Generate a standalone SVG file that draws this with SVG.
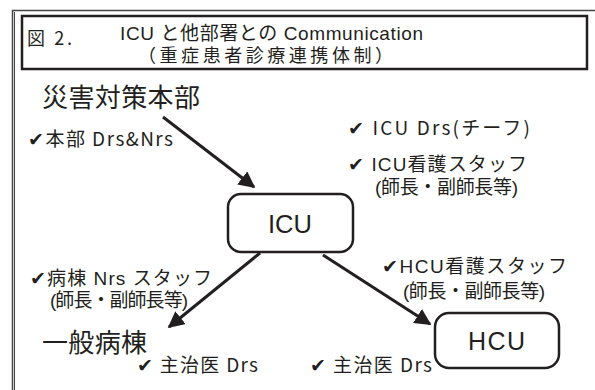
<svg xmlns="http://www.w3.org/2000/svg" width="595" height="390" viewBox="0 0 595 390">
<defs>
<style>
text{font-family:"Noto Sans CJK JP","Liberation Sans",sans-serif;fill:#231f20}
.t{font-size:19px}
.s{font-family:"Liberation Sans","Noto Sans CJK JP",sans-serif}
.big{font-size:26px}
.lat{font-family:"Liberation Sans","Noto Sans CJK JP",sans-serif;font-size:25px}
.node{fill:#fff;stroke:#231f20;stroke-width:2.5}
.edge{stroke:#231f20;stroke-width:3;fill:none;marker-end:url(#ah)}
</style>
<marker id="ah" viewBox="0 0 10 10" refX="9" refY="5" markerWidth="5.5" markerHeight="5.5" orient="auto" markerUnits="strokeWidth">
<path d="M0,0 L10,5 L0,10 z" fill="#231f20"/>
</marker>
</defs>
<rect width="595" height="390" fill="#fff"/>
<g id="frame">
<path d="M12.5,390 V10.5 H595" fill="none" stroke="#444" stroke-width="1.5"/>
<path d="M14.5,390 V12" fill="none" stroke="#444" stroke-width="1"/>
<rect x="22" y="16" width="565" height="53" fill="none" stroke="#231f20" stroke-width="2.5"/>
<text x="27" y="45" font-size="18" textLength="45" lengthAdjust="spacing">図 2.</text>
<text class="s" x="120" y="40" font-size="19" textLength="303" lengthAdjust="spacing">ICU と他部署との Communication</text>
<text class="s" x="138" y="62" font-size="18" textLength="255" lengthAdjust="spacing">（重症患者診療連携体制）</text>
</g>
<g id="connectors">
<line class="edge" x1="163" y1="117" x2="254" y2="187"/>
<line class="edge" x1="260" y1="253" x2="169" y2="327"/>
<line class="edge" x1="323" y1="255" x2="430" y2="324"/>
</g>
<g id="saigai">
<text class="big" x="42" y="107" textLength="158" lengthAdjust="spacing">災害対策本部</text>
<text class="t" x="28" y="146" textLength="145" lengthAdjust="spacing">✔本部 Drs&amp;Nrs</text>
</g>
<g id="icu">
<rect class="node" x="228" y="194" width="125" height="58" rx="13"/>
<text class="lat" x="268" y="233" textLength="44" lengthAdjust="spacingAndGlyphs">ICU</text>
<text class="t" x="348" y="135" textLength="182" lengthAdjust="spacing">✔ ICU Drs(チーフ)</text>
<text class="t s" x="348" y="171" textLength="179" lengthAdjust="spacing">✔ ICU看護スタッフ</text>
<text class="t s" x="375" y="193.5" textLength="143" lengthAdjust="spacing">(師長・副師長等)</text>
</g>
<g id="byoto">
<text class="t s" x="30" y="285" textLength="182" lengthAdjust="spacing">✔病棟 Nrs スタッフ</text>
<text class="t s" x="50" y="306.5" textLength="138" lengthAdjust="spacing">(師長・副師長等)</text>
<text class="big" x="42" y="352" textLength="105" lengthAdjust="spacing">一般病棟</text>
<text class="t" x="137" y="372" textLength="121" lengthAdjust="spacing">✔ 主治医 Drs</text>
</g>
<g id="hcu">
<rect class="node" x="435" y="313" width="124" height="55" rx="14"/>
<text class="lat" x="468" y="350" textLength="57" lengthAdjust="spacing">HCU</text>
<text class="t s" x="382" y="273" textLength="185" lengthAdjust="spacing">✔HCU看護スタッフ</text>
<text class="t s" x="403" y="298" textLength="142" lengthAdjust="spacing">(師長・副師長等)</text>
<text class="t" x="310" y="372" textLength="122" lengthAdjust="spacing">✔ 主治医 Drs</text>
</g>
</svg>
